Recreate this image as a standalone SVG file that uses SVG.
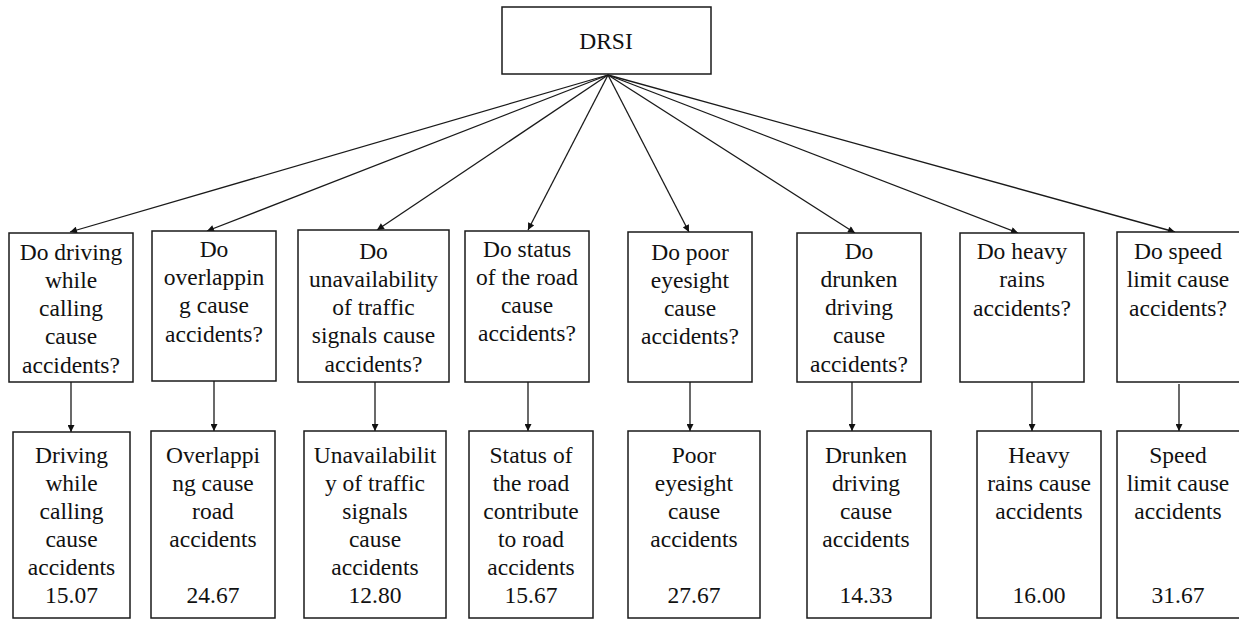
<svg xmlns="http://www.w3.org/2000/svg" width="1239" height="619" viewBox="0 0 1239 619">
  <style>
    .box { fill: #ffffff; stroke: #1a1a1a; stroke-width: 1.5; }
    .edge { stroke: #1a1a1a; stroke-width: 1.3; fill: none; marker-end: url(#arrow); }
    text { font-family: "Liberation Serif", "Times New Roman", serif; font-size: 23.5px; fill: #111; text-anchor: middle; }
  </style>
  <defs>
    <marker id="arrow" viewBox="0 0 10 10" refX="10" refY="5" markerWidth="8" markerHeight="7" markerUnits="userSpaceOnUse" orient="auto">
      <path d="M0,0 L10,5 L0,10 z" fill="#111"/>
    </marker>
  </defs>
  <rect width="1239" height="619" fill="#ffffff"/>

  <!-- connectors: fan from the root, then question to answer -->
  <g id="connectors">
    <line class="edge" x1="608" y1="75" x2="70" y2="232"/>
    <line class="edge" x1="608" y1="75" x2="207" y2="231"/>
    <line class="edge" x1="608" y1="75" x2="377" y2="230"/>
    <line class="edge" x1="608" y1="75" x2="528" y2="230"/>
    <line class="edge" x1="608" y1="75" x2="689" y2="232"/>
    <line class="edge" x1="608" y1="75" x2="855" y2="233"/>
    <line class="edge" x1="608" y1="75" x2="1018" y2="233"/>
    <line class="edge" x1="608" y1="75" x2="1175" y2="232"/>

    <line class="edge" x1="71" y1="382" x2="71" y2="432"/>
    <line class="edge" x1="214" y1="381" x2="214" y2="431"/>
    <line class="edge" x1="375" y1="382" x2="375" y2="431"/>
    <line class="edge" x1="528" y1="382" x2="528" y2="431"/>
    <line class="edge" x1="690" y1="382" x2="690" y2="431"/>
    <line class="edge" x1="852" y1="382" x2="852" y2="431"/>
    <line class="edge" x1="1032" y1="382" x2="1032" y2="431"/>
    <line class="edge" x1="1179" y1="384" x2="1179" y2="431"/>
  </g>

  <!-- root -->
  <g id="drsi">
    <rect class="box" x="502" y="7" width="209" height="67"/>
    <text x="606" y="49">DRSI</text>
  </g>

  <!-- questions -->
  <g id="q1">
    <rect class="box" x="9" y="233" width="124" height="149"/>
    <text x="71" y="260">Do driving</text>
    <text x="71" y="288">while</text>
    <text x="71" y="316">calling</text>
    <text x="71" y="344">cause</text>
    <text x="71" y="373">accidents?</text>
  </g>
  <g id="q2">
    <rect class="box" x="152" y="231" width="124" height="150"/>
    <text x="214" y="257">Do</text>
    <text x="214" y="285">overlappin</text>
    <text x="214" y="313">g cause</text>
    <text x="214" y="342">accidents?</text>
  </g>
  <g id="q3">
    <rect class="box" x="298" y="230" width="151" height="152"/>
    <text x="373.5" y="259">Do</text>
    <text x="373.5" y="287">unavailability</text>
    <text x="373.5" y="315">of traffic</text>
    <text x="373.5" y="343">signals cause</text>
    <text x="373.5" y="372">accidents?</text>
  </g>
  <g id="q4">
    <rect class="box" x="465" y="231" width="124" height="151"/>
    <text x="527" y="257">Do status</text>
    <text x="527" y="285">of the road</text>
    <text x="527" y="313">cause</text>
    <text x="527" y="341">accidents?</text>
  </g>
  <g id="q5">
    <rect class="box" x="628" y="232" width="124" height="150"/>
    <text x="690" y="260">Do poor</text>
    <text x="690" y="288">eyesight</text>
    <text x="690" y="316">cause</text>
    <text x="690" y="344">accidents?</text>
  </g>
  <g id="q6">
    <rect class="box" x="797" y="233" width="124" height="149"/>
    <text x="859" y="259">Do</text>
    <text x="859" y="287">drunken</text>
    <text x="859" y="315">driving</text>
    <text x="859" y="343">cause</text>
    <text x="859" y="372">accidents?</text>
  </g>
  <g id="q7">
    <rect class="box" x="960" y="233" width="124" height="149"/>
    <text x="1022" y="259">Do heavy</text>
    <text x="1022" y="287">rains</text>
    <text x="1022" y="316">accidents?</text>
  </g>
  <g id="q8">
    <rect class="box" x="1117" y="232" width="124" height="150"/>
    <text x="1178" y="259">Do speed</text>
    <text x="1178" y="287">limit cause</text>
    <text x="1178" y="316">accidents?</text>
  </g>

  <!-- answers -->
  <g id="a1">
    <rect class="box" x="13" y="432" width="117" height="186"/>
    <text x="71.5" y="463">Driving</text>
    <text x="71.5" y="491">while</text>
    <text x="71.5" y="519">calling</text>
    <text x="71.5" y="547">cause</text>
    <text x="71.5" y="575">accidents</text>
    <text x="71.5" y="603">15.07</text>
  </g>
  <g id="a2">
    <rect class="box" x="151" y="431" width="124" height="187"/>
    <text x="213" y="463">Overlappi</text>
    <text x="213" y="491">ng cause</text>
    <text x="213" y="519">road</text>
    <text x="213" y="547">accidents</text>
    <text x="213" y="603">24.67</text>
  </g>
  <g id="a3">
    <rect class="box" x="304" y="431" width="142" height="187"/>
    <text x="375" y="463">Unavailabilit</text>
    <text x="375" y="491">y of traffic</text>
    <text x="375" y="519">signals</text>
    <text x="375" y="547">cause</text>
    <text x="375" y="575">accidents</text>
    <text x="375" y="603">12.80</text>
  </g>
  <g id="a4">
    <rect class="box" x="469" y="431" width="124" height="187"/>
    <text x="531" y="463">Status of</text>
    <text x="531" y="491">the road</text>
    <text x="531" y="519">contribute</text>
    <text x="531" y="547">to road</text>
    <text x="531" y="575">accidents</text>
    <text x="531" y="603">15.67</text>
  </g>
  <g id="a5">
    <rect class="box" x="628" y="431" width="132" height="187"/>
    <text x="694" y="463">Poor</text>
    <text x="694" y="491">eyesight</text>
    <text x="694" y="519">cause</text>
    <text x="694" y="547">accidents</text>
    <text x="694" y="603">27.67</text>
  </g>
  <g id="a6">
    <rect class="box" x="807" y="431" width="124" height="187"/>
    <text x="866" y="463">Drunken</text>
    <text x="866" y="491">driving</text>
    <text x="866" y="519">cause</text>
    <text x="866" y="547">accidents</text>
    <text x="866" y="603">14.33</text>
  </g>
  <g id="a7">
    <rect class="box" x="977" y="431" width="124" height="187"/>
    <text x="1039" y="463">Heavy</text>
    <text x="1039" y="491">rains cause</text>
    <text x="1039" y="519">accidents</text>
    <text x="1039" y="603">16.00</text>
  </g>
  <g id="a8">
    <rect class="box" x="1117" y="431" width="124" height="187"/>
    <text x="1178" y="463">Speed</text>
    <text x="1178" y="491">limit cause</text>
    <text x="1178" y="519">accidents</text>
    <text x="1178" y="603">31.67</text>
  </g>
</svg>
